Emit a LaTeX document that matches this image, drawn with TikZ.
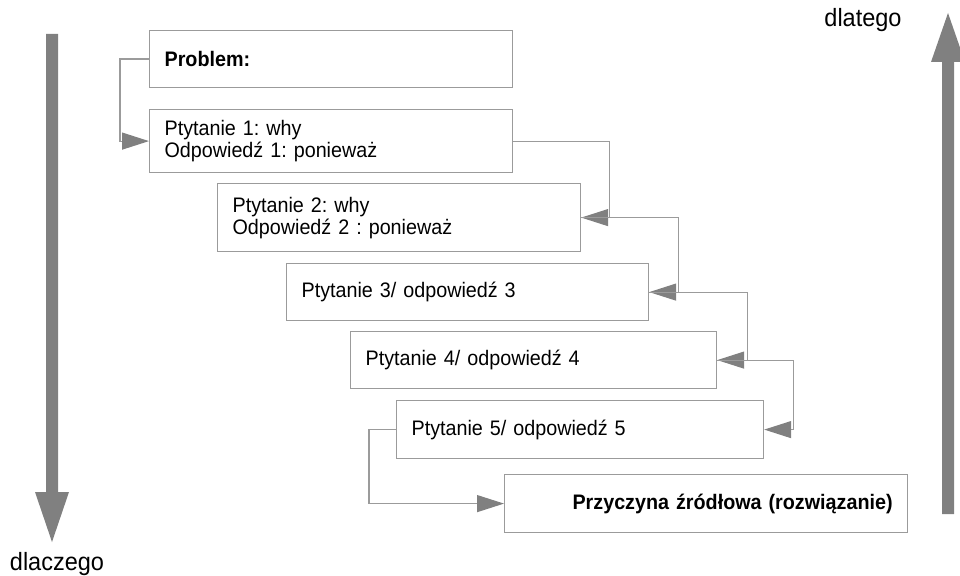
\documentclass[tikz,border=0pt]{standalone}
\usepackage{fontspec}
\setmainfont[FakeStretch=0.94]{Liberation Sans}
\usetikzlibrary{arrows.meta}
\definecolor{linegray}{RGB}{155,155,155}
\definecolor{arrgray}{RGB}{128,128,128}
\frenchspacing
\begin{document}
\begin{tikzpicture}[x=1pt,y=-1pt,
  font=\fontsize{21}{22}\selectfont,
  box/.style={draw=linegray, line width=1.2pt, rectangle, anchor=north west,
    inner xsep=15pt, inner ysep=0pt, align=left},
  conn/.style={draw=linegray, line width=1.2pt,
    -{Triangle[length=27pt,width=17pt,fill=arrgray,color=arrgray]}},
  bigarrow/.style={fill=arrgray, draw=none},
  sidelabel/.style={font=\fontsize{25}{27}\selectfont}]
\useasboundingbox (0,0) rectangle (960,575);

\node[box, text width=333pt, minimum height=57pt] (p) at (149,30) {\textbf{Problem:}};
\node[box, text width=333pt, minimum height=63pt] (b1) at (149,109) {Ptytanie 1: why\\Odpowiedź 1: ponieważ};
\node[box, text width=333pt, minimum height=68pt] (b2) at (217,183) {Ptytanie 2: why\\Odpowiedź 2 : ponieważ};
\node[box, text width=332pt, minimum height=57pt] (b3) at (286,263) {Ptytanie 3/ odpowiedź 3};
\node[box, text width=336pt, minimum height=57pt] (b4) at (350,331) {Ptytanie 4/ odpowiedź 4};
\node[box, text width=337pt, minimum height=58pt] (b5) at (396,400) {Ptytanie 5/ odpowiedź 5};
\node[box, text width=373pt, minimum height=58pt, align=right] (root) at (504,474) {\textbf{Przyczyna źródłowa (rozwiązanie)}};

\draw[conn] (p.west) -- ++(-29,0) |- (b1.west);
\draw[conn] (b1.east) -- ++(96,0) |- (b2.east);
\draw[conn] (b2.east) -- ++(97,0) |- (b3.east);
\draw[conn] (b3.east) -- ++(98,0) |- (b4.east);
\draw[conn] (b4.east) -- ++(76,0) |- (b5.east);
\draw[conn] (b5.west) -- ++(-27,0) |- (root.west);

\fill[bigarrow] (46,34) -- (58,34) -- (58,492) -- (69,492) -- (52,542) -- (35,492) -- (46,492) -- cycle;
\fill[bigarrow] (942,514) -- (954,514) -- (954,62) -- (965,62) -- (948,13) -- (931,62) -- (942,62) -- cycle;

\node[sidelabel] (dlaczego) at (57,564) {dlaczego};
\node[sidelabel] (dlatego) at (863,20) {dlatego};
\end{tikzpicture}
\end{document}
